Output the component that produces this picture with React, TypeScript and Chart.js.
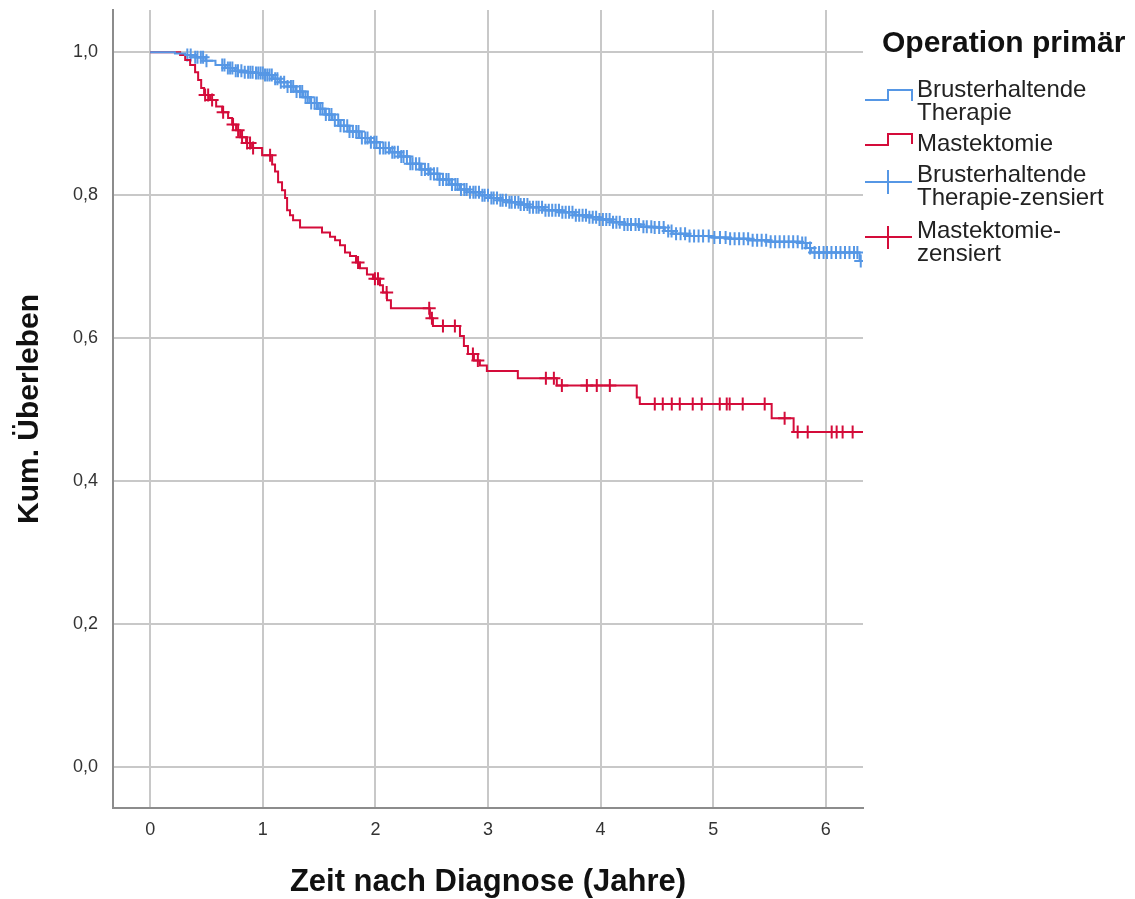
import React, { useEffect, useRef } from 'react';
import { Chart, registerables } from 'chart.js';

Chart.register(...registerables);

const BLUE = '#5697e5';
const RED = '#d40c3a';
const FONT = '"Liberation Sans", Arial, Helvetica, sans-serif';

const xTickValues = [0, 1, 2, 3, 4, 5, 6];
const yTickValues = [0, 0.2, 0.4, 0.6, 0.8, 1.0];

// Brusterhaltende Therapie: event times (years) and survival after each step
const bctTimes = [0, 0.22, 0.31, 0.40, 0.49, 0.58, 0.67, 0.75, 0.84, 0.93, 1.02, 1.09, 1.15, 1.22, 1.29, 1.36, 1.42, 1.49, 1.55, 1.62, 1.69, 1.77, 1.86, 1.95, 2.04, 2.13, 2.22, 2.31, 2.40, 2.48, 2.57, 2.66, 2.75, 2.84, 2.93, 3.02, 3.11, 3.19, 3.28, 3.37, 3.50, 3.64, 3.77, 3.90, 3.99, 4.10, 4.21, 4.35, 4.48, 4.57, 4.64, 4.79, 4.99, 5.15, 5.32, 5.50, 5.77, 5.83, 5.87, 6.30, 6.40];
const bctSurv = [1, 0.998, 0.996, 0.993, 0.988, 0.982, 0.978, 0.974, 0.972, 0.971, 0.968, 0.963, 0.958, 0.952, 0.945, 0.937, 0.929, 0.921, 0.913, 0.905, 0.897, 0.889, 0.880, 0.874, 0.866, 0.860, 0.854, 0.844, 0.836, 0.830, 0.822, 0.815, 0.808, 0.804, 0.800, 0.796, 0.793, 0.790, 0.787, 0.783, 0.779, 0.776, 0.772, 0.769, 0.766, 0.762, 0.759, 0.756, 0.755, 0.750, 0.746, 0.743, 0.741, 0.739, 0.737, 0.735, 0.733, 0.726, 0.720, 0.708, 0.708];

// Mastektomie
const mastTimes = [0, 0.266, 0.311, 0.355, 0.399, 0.426, 0.453, 0.479, 0.532, 0.586, 0.639, 0.692, 0.728, 0.763, 0.799, 0.852, 0.905, 0.994, 1.083, 1.109, 1.136, 1.171, 1.198, 1.216, 1.242, 1.269, 1.331, 1.526, 1.597, 1.642, 1.686, 1.730, 1.775, 1.828, 1.863, 1.925, 1.979, 2.041, 2.067, 2.103, 2.138, 2.484, 2.511, 2.751, 2.786, 2.822, 2.875, 2.928, 2.990, 3.265, 3.611, 4.321, 4.348, 5.519, 5.714, 6.40];
const mastSurv = [1, 0.996, 0.989, 0.982, 0.972, 0.961, 0.950, 0.940, 0.933, 0.924, 0.916, 0.908, 0.899, 0.891, 0.881, 0.873, 0.866, 0.856, 0.843, 0.833, 0.818, 0.807, 0.796, 0.779, 0.772, 0.765, 0.755, 0.748, 0.742, 0.737, 0.730, 0.720, 0.715, 0.706, 0.698, 0.689, 0.683, 0.674, 0.664, 0.653, 0.642, 0.628, 0.617, 0.603, 0.589, 0.578, 0.569, 0.562, 0.554, 0.544, 0.534, 0.517, 0.508, 0.488, 0.469, 0.469];

// censored observations (years)
const bctCensorTimes = [0.33, 0.36, 0.40, 0.42, 0.45, 0.47, 0.50, 0.64, 0.66, 0.69, 0.71, 0.73, 0.76, 0.78, 0.81, 0.84, 0.87, 0.89, 0.91, 0.94, 0.96, 0.98, 1.00, 1.02, 1.04, 1.06, 1.08, 1.11, 1.13, 1.16, 1.19, 1.22, 1.25, 1.27, 1.30, 1.33, 1.35, 1.38, 1.40, 1.43, 1.46, 1.48, 1.51, 1.53, 1.56, 1.59, 1.61, 1.64, 1.67, 1.69, 1.72, 1.75, 1.77, 1.80, 1.83, 1.85, 1.88, 1.91, 1.93, 1.96, 1.99, 2.01, 2.04, 2.07, 2.09, 2.12, 2.15, 2.17, 2.20, 2.23, 2.25, 2.28, 2.31, 2.33, 2.36, 2.39, 2.41, 2.44, 2.47, 2.49, 2.52, 2.55, 2.57, 2.60, 2.63, 2.65, 2.68, 2.71, 2.73, 2.76, 2.79, 2.81, 2.84, 2.87, 2.89, 2.92, 2.95, 2.97, 3.00, 3.03, 3.05, 3.08, 3.11, 3.13, 3.16, 3.19, 3.21, 3.24, 3.27, 3.29, 3.32, 3.35, 3.37, 3.40, 3.43, 3.45, 3.48, 3.51, 3.54, 3.57, 3.60, 3.63, 3.66, 3.69, 3.72, 3.75, 3.78, 3.81, 3.84, 3.87, 3.90, 3.93, 3.96, 3.99, 4.02, 4.05, 4.08, 4.11, 4.14, 4.17, 4.21, 4.24, 4.27, 4.31, 4.34, 4.38, 4.41, 4.45, 4.48, 4.52, 4.56, 4.60, 4.63, 4.67, 4.71, 4.75, 4.79, 4.83, 4.87, 4.91, 4.96, 5.01, 5.06, 5.11, 5.15, 5.19, 5.23, 5.27, 5.31, 5.35, 5.39, 5.43, 5.47, 5.51, 5.55, 5.59, 5.63, 5.67, 5.71, 5.75, 5.79, 5.82, 5.86, 5.90, 5.94, 5.98, 6.01, 6.05, 6.09, 6.13, 6.17, 6.21, 6.25, 6.28, 6.31];
const mastCensorTimes = [0.488, 0.515, 0.550, 0.648, 0.736, 0.781, 0.816, 0.861, 0.887, 0.914, 1.065, 1.846, 1.996, 2.023, 2.100, 2.478, 2.502, 2.600, 2.706, 2.866, 2.910, 3.514, 3.585, 3.656, 3.878, 3.966, 4.082, 4.481, 4.552, 4.632, 4.703, 4.818, 4.898, 5.058, 5.120, 5.146, 5.262, 5.457, 5.634, 5.750, 5.839, 6.052, 6.096, 6.149, 6.238];

const legendTitle = 'Operation primär';
const legendLabels = [
  ['Brusterhaltende', 'Therapie'],
  ['Mastektomie'],
  ['Brusterhaltende', 'Therapie-zensiert'],
  ['Mastektomie-', 'zensiert'],
];

function stepPoints(times: number[], surv: number[]) {
  const n = Math.min(times.length, surv.length);
  const pts = [] as { x: number; y: number }[];
  for (let i = 0; i < n; i++) pts.push({ x: times[i], y: surv[i] });
  return pts;
}

function valueAt(times: number[], surv: number[], t: number) {
  let v = surv[0];
  for (let i = 0; i < times.length; i++) {
    if (times[i] <= t) v = surv[i];
    else break;
  }
  return v;
}

function censorPoints(cTimes: number[], times: number[], surv: number[]) {
  return cTimes.map((t) => ({ x: t, y: valueAt(times, surv, t) }));
}

const legendPlugin = {
  id: 'kmLegend',
  afterDraw(chart: any) {
    const ctx = chart.ctx as CanvasRenderingContext2D;
    ctx.save();
    ctx.textBaseline = 'alphabetic';
    ctx.textAlign = 'left';
    ctx.fillStyle = '#111';
    ctx.font = `bold 30px ${FONT}`;
    ctx.fillText(legendTitle, 882, 52);

    ctx.font = `24px ${FONT}`;
    ctx.fillStyle = '#222';
    const baselines = [[97, 120], [151], [182, 205], [238, 261]];
    legendLabels.forEach((lines, i) => {
      lines.forEach((ln, j) => ctx.fillText(ln, 917, baselines[i][j]));
    });

    ctx.lineWidth = 2;
    // step symbols
    ctx.strokeStyle = BLUE;
    ctx.beginPath();
    ctx.moveTo(865, 100); ctx.lineTo(888, 100); ctx.lineTo(888, 90); ctx.lineTo(912, 90); ctx.lineTo(912, 101);
    ctx.stroke();
    ctx.strokeStyle = RED;
    ctx.beginPath();
    ctx.moveTo(865, 145); ctx.lineTo(888, 145); ctx.lineTo(888, 134); ctx.lineTo(912, 134); ctx.lineTo(912, 144);
    ctx.stroke();
    // censor symbols
    ctx.strokeStyle = BLUE;
    ctx.beginPath();
    ctx.moveTo(865, 182); ctx.lineTo(912, 182);
    ctx.moveTo(888, 170); ctx.lineTo(888, 194);
    ctx.stroke();
    ctx.strokeStyle = RED;
    ctx.beginPath();
    ctx.moveTo(865, 237); ctx.lineTo(912, 237);
    ctx.moveTo(888, 226); ctx.lineTo(888, 249);
    ctx.stroke();
    ctx.restore();
  },
};

export default function App() {
  const ref = useRef<HTMLCanvasElement | null>(null);
  useEffect(() => {
    document.body.style.margin = '0';
    const canvas = ref.current;
    if (!canvas) return;
    const chart = new Chart(canvas, {
      type: 'line',
      data: {
        datasets: [
          {
            label: 'Brusterhaltende Therapie',
            data: stepPoints(bctTimes, bctSurv),
            borderColor: BLUE,
            borderWidth: 2,
            pointRadius: 0,
            stepped: 'before',
            fill: false,
          },
          {
            label: 'Mastektomie',
            data: stepPoints(mastTimes, mastSurv),
            borderColor: RED,
            borderWidth: 2,
            pointRadius: 0,
            stepped: 'before',
            fill: false,
          },
          {
            type: 'scatter',
            label: 'Brusterhaltende Therapie-zensiert',
            data: censorPoints(bctCensorTimes, bctTimes, bctSurv),
            showLine: false,
            pointStyle: 'cross',
            pointRadius: 6.5,
            pointBorderWidth: 2,
            borderColor: BLUE,
            backgroundColor: BLUE,
          } as any,
          {
            type: 'scatter',
            label: 'Mastektomie-zensiert',
            data: censorPoints(mastCensorTimes, mastTimes, mastSurv),
            showLine: false,
            pointStyle: 'cross',
            pointRadius: 6.5,
            pointBorderWidth: 2,
            borderColor: RED,
            backgroundColor: RED,
          } as any,
        ],
      },
      options: {
        responsive: false,
        animation: false,
        events: [],
        layout: { padding: { left: 0, right: 272, top: 10, bottom: 0 } },
        plugins: { legend: { display: false }, tooltip: { enabled: false } },
        scales: {
          x: {
            type: 'linear',
            min: -0.33,
            max: 6.33,
            afterBuildTicks: (s: any) => { s.ticks = xTickValues.map((v) => ({ value: v })); },
            afterFit: (s: any) => { s.height = 91; s.paddingLeft = 0; s.paddingRight = 0; },
            grid: { color: '#c8c8c8', lineWidth: 2, drawTicks: false },
            border: { display: true, color: '#8c8c8c', width: 2 },
            ticks: {
              autoSkip: false,
              maxRotation: 0,
              padding: 11,
              color: '#333',
              font: { family: FONT, size: 18 },
              callback: (v: any) => String(v),
            },
            title: {
              display: true,
              text: 'Zeit nach Diagnose (Jahre)',
              color: '#111',
              font: { family: FONT, size: 31, weight: 'bold', lineHeight: 1 },
              padding: { top: 0, bottom: 1 },
            },
          },
          y: {
            type: 'linear',
            min: -0.057,
            max: 1.059,
            afterBuildTicks: (s: any) => { s.ticks = yTickValues.map((v) => ({ value: v })); },
            afterFit: (s: any) => { s.width = 113; s.paddingTop = 0; s.paddingBottom = 0; },
            grid: { color: '#c8c8c8', lineWidth: 2, drawTicks: false },
            border: { display: true, color: '#8c8c8c', width: 2 },
            ticks: {
              autoSkip: false,
              padding: 15,
              color: '#333',
              font: { family: FONT, size: 18 },
              callback: (v: any) => Number(v).toFixed(1).replace('.', ','),
            },
            title: {
              display: true,
              text: 'Kum. Überleben',
              color: '#111',
              font: { family: FONT, size: 30, weight: 'bold', lineHeight: 1 },
              padding: { top: 15, bottom: 0 },
            },
          },
        },
      },
      plugins: [legendPlugin],
    } as any);
    return () => chart.destroy();
  }, []);
  return <canvas ref={ref} width={1135} height={899} style={{ display: 'block' }} />;
}
